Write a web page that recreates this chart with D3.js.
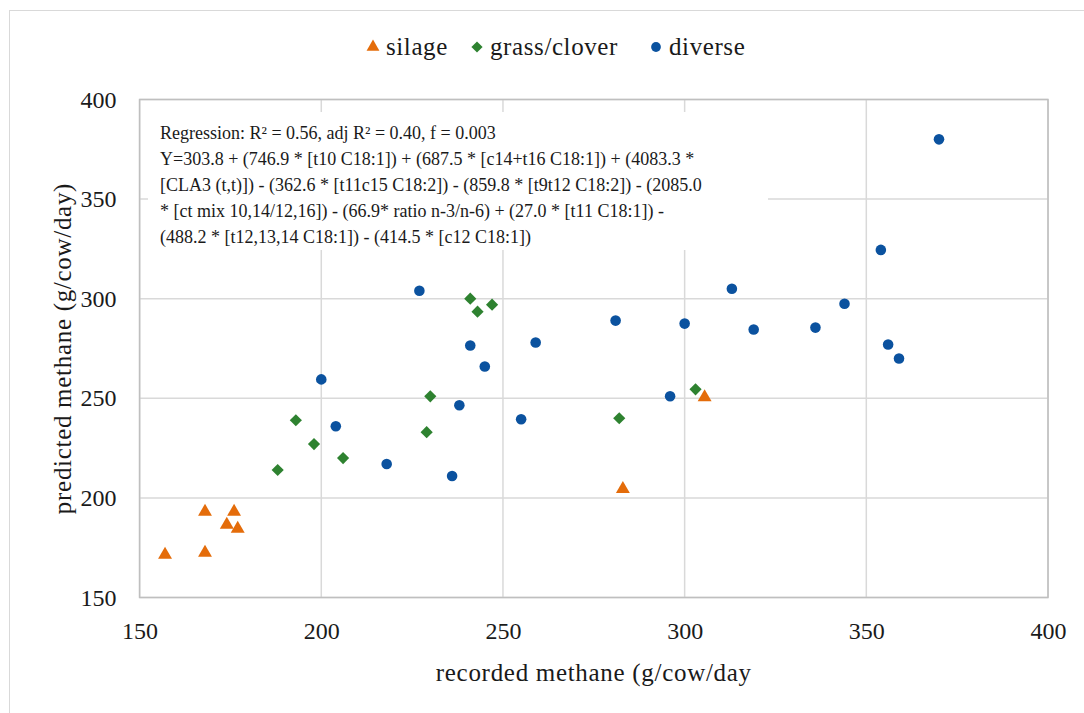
<!DOCTYPE html>
<html>
<head>
<meta charset="utf-8">
<script src="https://cdnjs.cloudflare.com/ajax/libs/d3/7.8.5/d3.min.js"></script>
<style>
  body { margin: 0; background: #fff; }
  text { font-family: "Liberation Serif", "Times New Roman", serif; fill: #1a1a1a; }
</style>
</head>
<body>
<script>
// recorded vs predicted methane
const silage = [
  [157, 171.5], [168, 172.5], [168, 193], [174, 186.5], [176, 193], [177, 184.5],
  [283, 204.5], [305.5, 250.5]
];
const grassClover = [
  [188, 214], [193, 239], [198, 227], [206, 220], [229, 233], [230, 251],
  [241, 300], [243, 293.5], [247, 297], [282, 240], [303, 254.5]
];
const diverse = [
  [200, 259.5], [204, 236], [218, 217], [227, 304], [236, 211], [238, 246.5],
  [241, 276.5], [245, 266], [255, 239.5], [259, 278], [281, 289], [296, 251],
  [300, 287.5], [313, 305], [319, 284.5], [336, 285.5], [344, 297.5], [354, 324.5],
  [356, 277], [359, 270], [370, 380]
];
const xTicks = [150, 200, 250, 300, 350, 400];
const yTicks = [150, 200, 250, 300, 350, 400];
const seriesNames = ["silage", "grass/clover", "diverse"];
const noteLines = [
  "Regression: R\u00b2 = 0.56, adj R\u00b2 = 0.40, f = 0.003",
  "Y=303.8 + (746.9 * [t10 C18:1]) + (687.5 * [c14+t16 C18:1]) + (4083.3 *",
  "[CLA3 (t,t)]) - (362.6 * [t11c15 C18:2]) - (859.8 * [t9t12 C18:2]) - (2085.0",
  "* [ct mix 10,14/12,16]) - (66.9* ratio n-3/n-6) + (27.0 * [t11 C18:1]) -",
  "(488.2 * [t12,13,14 C18:1]) - (414.5 * [c12 C18:1])"
];

const W = 1084, H = 713;
const plot = { left: 139.6, right: 1048, top: 99.5, bottom: 597.5 };

const colors = { "silage": "#e46c0a", "grass/clover": "#2e8230", "diverse": "#0b529f" };
const shapes = { "silage": d3.symbolTriangle, "grass/clover": d3.symbolSquare, "diverse": d3.symbolCircle };
const sizes = { "silage": 84, "grass/clover": 74, "diverse": 88 };
const rotations = { "silage": 0, "grass/clover": 45, "diverse": 0 };

const svg = d3.select("body").append("svg")
    .attr("width", W)
    .attr("height", H);

// outer chart border
svg.append("rect")
    .attr("x", 9.5).attr("y", 10.5)
    .attr("width", W + 20).attr("height", H + 20)
    .attr("fill", "#fff")
    .attr("stroke", "#d9d9d9");

var x = d3.scaleLinear().domain([150, 400]).range([plot.left, plot.right]);
var y = d3.scaleLinear().domain([150, 400]).range([plot.bottom, plot.top]);

// gridlines
svg.append("g")
    .selectAll("line.h")
    .data(yTicks)
    .enter().append("line")
    .attr("x1", plot.left).attr("x2", plot.right)
    .attr("y1", d => y(d)).attr("y2", d => y(d))
    .attr("stroke", "#d9d9d9").attr("stroke-width", 1.5);

svg.append("g")
    .selectAll("line.v")
    .data(xTicks)
    .enter().append("line")
    .attr("x1", d => x(d)).attr("x2", d => x(d))
    .attr("y1", plot.top).attr("y2", plot.bottom)
    .attr("stroke", "#d9d9d9").attr("stroke-width", 1.5);

// plot area border
svg.append("rect")
    .attr("x", plot.left).attr("y", plot.top)
    .attr("width", plot.right - plot.left).attr("height", plot.bottom - plot.top)
    .attr("fill", "none")
    .attr("stroke", "#bfbfbf").attr("stroke-width", 1.5);

// tick labels
var xAxis = d3.axisBottom(x).tickValues(xTicks).tickSize(0).tickPadding(24);
svg.append("g")
    .attr("transform", "translate(0," + plot.bottom + ")")
    .call(xAxis)
    .call(g => g.select(".domain").remove())
    .selectAll("text")
    .attr("font-size", 24)
    .attr("font-family", null);

var yAxis = d3.axisLeft(y).tickValues(yTicks).tickSize(0).tickPadding(23);
svg.append("g")
    .attr("transform", "translate(" + plot.left + ",0)")
    .call(yAxis)
    .call(g => g.select(".domain").remove())
    .selectAll("text")
    .attr("font-size", 24)
    .attr("font-family", null);

svg.selectAll(".tick text").style("fill", "#1a1a1a");

// axis titles
svg.append("text")
    .attr("x", (plot.left + plot.right) / 2)
    .attr("y", 681)
    .attr("text-anchor", "middle")
    .attr("font-size", 25)
    .attr("letter-spacing", 0.7)
    .text("recorded methane (g/cow/day");

svg.append("text")
    .attr("transform", "translate(71," + (plot.top + plot.bottom) / 2 + ") rotate(-90)")
    .attr("text-anchor", "middle")
    .attr("font-size", 25)
    .attr("letter-spacing", 0.7)
    .text("predicted methane (g/cow/day)");

// regression note box
svg.append("rect")
    .attr("x", 148).attr("y", 112)
    .attr("width", 620).attr("height", 138)
    .attr("fill", "#fff");

var note = svg.append("text")
    .attr("font-size", 18);
note.selectAll("tspan")
    .data(noteLines)
    .enter().append("tspan")
    .attr("x", 160)
    .attr("y", (d, i) => 139 + i * 26)
    .text(d => d);

// points
var groups = [["silage", silage], ["grass/clover", grassClover], ["diverse", diverse]];
groups.forEach(([name, pts]) => {
    svg.append("g")
        .selectAll("path")
        .data(pts)
        .enter().append("path")
        .attr("transform", d => "translate(" + x(d[0]) + "," + y(d[1]) + ") rotate(" + rotations[name] + ")")
        .attr("d", d3.symbol().type(shapes[name]).size(sizes[name]))
        .attr("fill", colors[name]);
});

// legend
var legendX = [373, 477, 656];
var legend = svg.append("g");
seriesNames.forEach((name, i) => {
    legend.append("path")
        .attr("transform", "translate(" + legendX[i] + ",47) rotate(" + rotations[name] + ")")
        .attr("d", d3.symbol().type(shapes[name]).size(sizes[name] * 0.85))
        .attr("fill", colors[name]);
    legend.append("text")
        .attr("x", legendX[i] + 13)
        .attr("y", 55)
        .attr("font-size", 25)
        .attr("letter-spacing", 0.6)
        .text(name);
});
</script>
</body>
</html>
